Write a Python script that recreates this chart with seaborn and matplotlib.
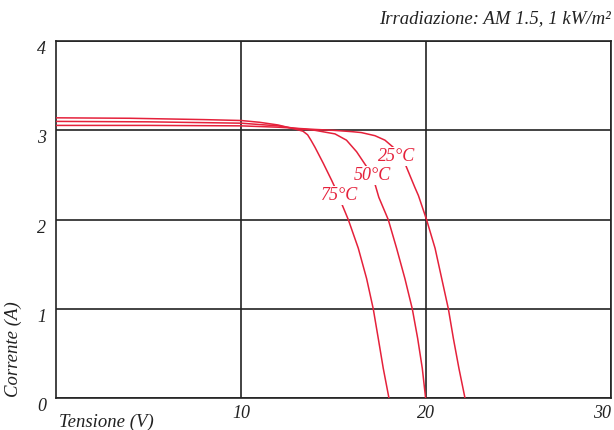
import pandas as pd
import matplotlib
matplotlib.use("Agg")
import matplotlib.pyplot as plt
import seaborn as sns

# curve points (tensione V, corrente A)
v_25 = [0, 5, 10, 12, 14, 15, 16, 16.5, 17.24, 17.78, 18.23, 18.86, 19.4, 19.59, 20.03, 20.49, 20.85, 21.21, 21.48, 21.78, 22.11]
i_25 = [3.055, 3.055, 3.05, 3.035, 3.01, 3.0, 2.985, 2.975, 2.94, 2.89, 2.81, 2.63, 2.36, 2.27, 2.0, 1.68, 1.34, 1.0, 0.67, 0.335, 0.0]

v_50 = [0, 5, 10, 12, 13, 14, 15.08, 15.7, 16.25, 16.8, 17.24, 17.45, 17.96, 18.41, 18.86, 19.26, 19.55, 19.8, 19.98]
i_50 = [3.10, 3.095, 3.08, 3.05, 3.02, 3.0, 2.96, 2.89, 2.76, 2.59, 2.40, 2.25, 2.0, 1.68, 1.34, 1.0, 0.67, 0.335, 0.0]

v_75 = [0, 4, 8, 10, 11, 12, 13.0, 13.35, 13.6, 13.78, 14.0, 14.45, 14.9, 15.08, 15.48, 15.8, 16.34, 16.79, 17.15, 17.42, 17.69, 18.0]
i_75 = [3.14, 3.135, 3.12, 3.11, 3.09, 3.06, 3.01, 2.99, 2.95, 2.89, 2.81, 2.63, 2.44, 2.36, 2.16, 2.0, 1.68, 1.34, 1.0, 0.67, 0.335, 0.0]

temp_labels = ["25°C", "50°C", "75°C"]
label_pos = [(18.42, 2.71), (17.08, 2.49), (15.35, 2.27)]

x_ticks = [10, 20, 30]
y_ticks = [0, 1, 2, 3, 4]

rows = []
for lab, vv, ii in zip(temp_labels, [v_25, v_50, v_75], [i_25, i_50, i_75]):
    for v, i in zip(vv, ii):
        rows.append({"T": lab, "V": v, "I": i})
df = pd.DataFrame(rows)

sns.set_theme(style="white")
plt.rcParams['font.family'] = ['Liberation Serif', 'DejaVu Serif']
plt.rcParams['font.style'] = 'italic'

red = '#e5213b'
ink = '#222222'

fig = plt.figure(figsize=(6.14, 4.30), dpi=100)
ax = fig.add_axes([56/614, 1 - 398.3/430, 555/614, 357.3/430])

sns.lineplot(data=df, x="V", y="I", units="T", estimator=None, sort=False,
             color=red, lw=1.1, ax=ax, zorder=3)

for lab, (x, y) in zip(temp_labels, label_pos):
    ax.text(x, y, lab, color=red, fontsize=13, ha='center', va='center', zorder=4,
            bbox=dict(facecolor='white', edgecolor='none', pad=0.8))

ax.set_xlim(0, 30)
ax.set_ylim(0, 4)
ax.set_xticks(x_ticks)
ax.set_yticks(y_ticks)
ax.grid(True, color=ink, lw=1.2)
for s in ax.spines.values():
    s.set_color(ink)
    s.set_linewidth(1.2)
ax.tick_params(length=0, labelsize=13, labelcolor=ink)
ax.tick_params(axis='y', pad=7)
ax.tick_params(axis='x', pad=5)
for t in ax.get_yticklabels():
    t.set_va('top')
ax.get_xticklabels()[-1].set_ha('right')

ax.set_xlabel("Tensione (V)", fontsize=13.5, color=ink, loc='left')
ax.xaxis.set_label_coords(0.006, -0.042)
ax.set_ylabel("Corrente (A)", fontsize=13.5, color=ink, loc='bottom')
ax.yaxis.set_label_coords(-0.062, 0.005)

ax.text(1.0, 1.064, "Irradiazione: AM 1.5, 1 kW/m²", transform=ax.transAxes,
        ha='right', va='center', fontsize=13.5, color=ink)

fig.savefig("out.png", dpi=100)
